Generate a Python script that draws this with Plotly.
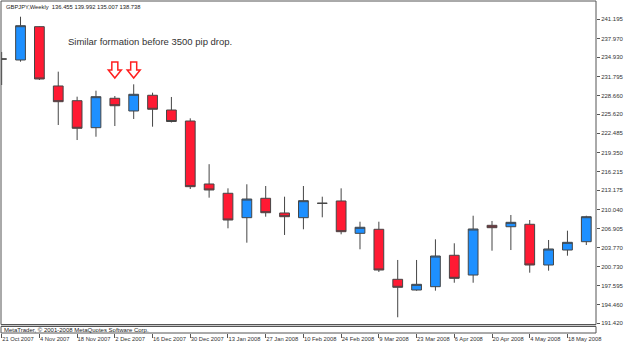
import plotly.graph_objects as go
import pandas as pd

# ---------------- data ----------------
week_start = "2007-10-21"
n_weeks = 32
opens = [234.65, 234.49, 239.94, 230.24, 227.83, 223.42, 228.23, 226.15, 228.72, 226.31,
         224.51, 214.21, 212.69, 208.70, 211.87, 209.47, 208.70, 211.06, 211.43, 206.14,
         206.80, 198.62, 196.87, 197.41, 202.55, 199.32, 207.45, 207.22, 207.62, 200.96,
         203.41, 204.77]
highs = [235.80, 241.57, 240.00, 232.58, 228.49, 229.47, 228.60, 230.51, 229.14, 228.44,
         224.95, 217.45, 213.50, 214.16, 213.88, 212.13, 213.88, 212.13, 213.50, 208.04,
         208.04, 201.78, 201.78, 205.16, 204.51, 209.02, 208.16, 209.14, 208.32, 205.05,
         206.57, 209.02]
lows = [230.40, 234.21, 231.22, 223.86, 221.40, 221.94, 223.69, 224.84, 223.58, 224.27,
        213.39, 211.97, 206.96, 204.61, 208.86, 205.87, 206.80, 208.76, 205.98, 203.53,
        199.82, 192.41, 196.76, 196.76, 198.06, 198.06, 203.30, 203.41, 199.70, 200.03,
        202.48, 204.23]
closes = [234.65, 240.10, 231.38, 227.67, 223.32, 228.49, 227.01, 228.88, 226.43, 224.43,
          213.77, 213.23, 208.32, 211.75, 209.51, 208.86, 211.48, 211.05, 206.41, 207.13,
          200.14, 197.31, 197.80, 202.43, 198.78, 206.85, 207.06, 207.94, 200.96, 203.58,
          204.67, 208.86]
price_ticks = [241.195, 237.970, 234.930, 231.795, 228.660, 225.620, 222.485, 219.350,
               216.215, 213.175, 210.040, 206.905, 203.770, 200.730, 197.595, 194.460,
               191.420]
header_text = "GBPJPY,Weekly  136.455 139.992 135.007 138.738"
note_text = "Similar formation before 3500 pip drop."
footer_text = "MetaTrader, \u00a9 2001-2008 MetaQuotes Software Corp."
arrow_weeks = [6, 7]      # 2 Dec 2007, 9 Dec 2007
arrow_price = 231.54

weeks = pd.date_range(week_start, periods=n_weeks, freq="7D")
date_ticks = list(weeks[::2])

# ---------------- style ----------------
W, H = 625, 348
ml, mr, mt, mb = 1, 23, 1, 15
plot_h = H - mt - mb
main_bottom_px, sub_top_px = 324.5, 326.5
main_dom = [(H - mb - main_bottom_px) / plot_h, 1]
sub_dom = [0, (H - mb - sub_top_px) / plot_h]
font = "Liberation Sans, Arial, sans-serif"
frame = "#555555"
blue, red = "#1e90ff", "#ff1a33"

fig = go.Figure()
fig.add_trace(go.Candlestick(
    x=weeks, open=opens, high=highs, low=lows, close=closes,
    increasing=dict(fillcolor=blue, line=dict(color="#454545", width=1)),
    decreasing=dict(fillcolor=red, line=dict(color="#454545", width=1)),
    whiskerwidth=0, showlegend=False, hoverinfo="skip",
    xaxis="x", yaxis="y"))
fig.add_trace(go.Scatter(x=[], y=[], xaxis="x", yaxis="y2", showlegend=False))

x_range = [weeks[0] - pd.Timedelta(hours=6), weeks[0] + pd.Timedelta(days=220.6)]

fig.update_layout(
    width=W, height=H,
    margin=dict(l=ml, r=mr, t=mt, b=mb),
    paper_bgcolor="white", plot_bgcolor="white",
    boxgap=0.26,
    showlegend=False,
    xaxis=dict(type="date", range=x_range, anchor="y2", rangeslider=dict(visible=False),
               tickvals=date_ticks, ticktext=[d.strftime("%-d %b %Y") for d in date_ticks],
               tickangle=0, ticks="outside", ticklen=4, tickcolor=frame, showline=False,
               showgrid=False, zeroline=False, ticklabelposition="outside right",
               tickfont=dict(family=font, size=5.8, color="#333333")),
    yaxis=dict(domain=main_dom, range=[191.228, 244.139], side="right", anchor="x",
               tickvals=price_ticks, ticktext=[f"{v:.3f}" for v in price_ticks],
               ticks="outside", ticklen=3, tickcolor=frame, showgrid=False, zeroline=False,
               showline=False, tickfont=dict(family=font, size=6, color="#333333")),
    yaxis2=dict(domain=sub_dom, range=[0, 1], visible=False, anchor="x"),
)

shapes = [
    dict(type="rect", xref="paper", yref="paper", x0=0, x1=1,
         y0=sub_dom[1], y1=main_dom[0], fillcolor="#c8c8c8", line=dict(width=0), layer="below"),
    dict(type="rect", xref="x domain", yref="y domain", x0=0, x1=1, y0=0, y1=1,
         line=dict(color=frame, width=1)),
    dict(type="rect", xref="x domain", yref="y2 domain", x0=0, x1=1, y0=0, y1=1,
         line=dict(color=frame, width=1)),
]
arrow_path = "M -3,16 L 3,16 L 3,8 L 6.5,8 L 0,0 L -6.5,8 L -3,8 Z"
for i in arrow_weeks:
    shapes.append(dict(type="path", xref="x", yref="y", xsizemode="pixel", ysizemode="pixel",
                       xanchor=weeks[i], yanchor=arrow_price, path=arrow_path,
                       fillcolor="white", line=dict(color="#ff2020", width=1.5)))
fig.update_layout(shapes=shapes)

fig.add_annotation(text=header_text, xref="paper", yref="paper", x=0.005, y=1,
                   yshift=-1, xanchor="left", yanchor="top", showarrow=False,
                   font=dict(family=font, size=5.8, color="#222222"))
fig.add_annotation(text=note_text, xref="paper", yref="paper", x=66 / 601, y=1 - 41 / plot_h,
                   xanchor="left", yanchor="middle", showarrow=False,
                   font=dict(family=font, size=9.5, color="#333333"))
fig.add_annotation(text=footer_text, xref="paper", yref="y2 domain", x=0.002, y=0.5,
                   xanchor="left", yanchor="middle", showarrow=False,
                   font=dict(family=font, size=6, color="#222222"))

fig.write_html("out.html")
